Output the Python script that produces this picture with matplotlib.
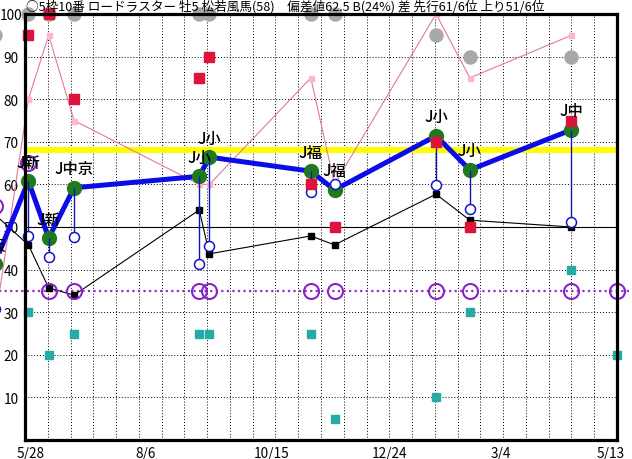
import numpy as np
import matplotlib
matplotlib.use("Agg")
import matplotlib.pyplot as plt
from matplotlib.transforms import ScaledTranslation

plt.rcParams['font.family'] = ['Noto Sans CJK JP', 'DejaVu Sans']

# Race days, counted from 5/28
race_days = [-18, 2, 14, 29, 103, 109, 169, 183, 243, 263, 323, 350]
race_labels = ["J阪", "J新", "J新", "J中京", "J小", "J小", "J福", "J福", "J小", "J小", "J中", ""]

nan = np.nan
index_vals = [41.3, 60.8, 47.4, 59.2, 61.9, 66.4, 63.1, 58.7, 71.4, 63.4, 72.8, nan]
open_vals = [30.8, 47.9, 43.0, 47.7, 41.3, 45.5, 58.2, 60.1, 59.9, 54.2, 51.2, nan]
black_vals = [53.0, 45.8, 35.7, 34.0, 54.0, 43.7, 47.9, 45.8, 57.7, 51.6, 50.0, nan]
pink_vals = [27, 80, 95, 75, 60, 60, 85, 60, 100, 85, 95, nan]
red_vals = [nan, 95, 100, 80, 85, 90, 60, 50, 70, 50, 75, nan]
teal_vals = [nan, 30, 20, 25, 25, 25, 25, 5, 10, 30, 40, 20]
gray_vals = [95, 100, 100, 100, 100, 100, 100, 100, 95, 90, 90, nan]
purple_vals = [55, 65, 35, 35, 35, 35, 35, 35, 35, 35, 35, 35]

std_level = 68
mid_level = 50
purple_level = 35

xtick_days = [0, 70, 140, 210, 280, 350]
xtick_labels = ["5/28", "8/6", "10/15", "12/24", "3/4", "5/13"]
ytick_vals = [10, 20, 30, 40, 50, 60, 70, 80, 90, 100]

W, H = 632, 460
fig = plt.figure(figsize=(W / 100, H / 100), dpi=100)
ax = fig.add_axes([25 / W, 19 / H, (617 - 25) / W, (441 - 15) / H])
ax.set_xlim(0, 350)
ax.set_ylim(0, 100)

# grid
for gx in np.linspace(0, 350, 27)[1:-1]:
    ax.axvline(gx, color='black', lw=0.7, ls=(0, (1, 2)), zorder=0.5)
for gy in ytick_vals[:-1]:
    ax.axhline(gy, color='black', lw=0.7, ls=(0, (1, 2)), zorder=0.5)

for s in ax.spines.values():
    s.set_linewidth(2.3)
    s.set_zorder(8)

ax.set_yticks(ytick_vals)
ax.set_yticklabels([str(v) for v in ytick_vals], fontsize=9.8, ha='center')
ax.tick_params(axis='y', length=0, pad=10)
ax.set_xticks(xtick_days)
ax.set_xticklabels(xtick_labels, fontsize=9.8)
ax.tick_params(axis='x', length=0, pad=4)
for i, lab in enumerate(ax.get_xticklabels()):
    if i == len(xtick_labels) - 1:
        lab.set_ha('right')
        lab.set_transform(lab.get_transform() + ScaledTranslation(8 / 100, 0, fig.dpi_scale_trans))
    else:
        lab.set_ha('left')
        lab.set_transform(lab.get_transform() + ScaledTranslation(-8 / 100, 0, fig.dpi_scale_trans))

x = np.array(race_days, dtype=float)

# reference levels
ax.axhline(std_level, color='#ffff00', lw=4.3, zorder=1.5)
ax.axhline(mid_level, color='black', lw=0.8, zorder=1.6)
ax.plot([-40, 380], [purple_level, purple_level], color='#9030c8', lw=1.6,
        ls=(0, (1, 1.5)), zorder=1.7, clip_on=False)

# pink series
ax.plot(x, pink_vals, color='#e07aa0', lw=0.8, marker='s', ms=3.6,
        mfc='#ffb6c8', mec='#ffb6c8', zorder=2, clip_on=False)
# black series
ax.plot(x, black_vals, color='black', lw=0.8, marker='s', ms=4.6,
        mfc='black', mec='black', zorder=2.5, clip_on=False)
# teal squares
ax.plot(x, teal_vals, ls='none', marker='s', ms=6.2, mfc='#26aaa5',
        mec='#26aaa5', zorder=3, clip_on=False)
# gray circles
ax.plot(x, gray_vals, ls='none', marker='o', ms=9.4, mfc='#a8a8a8',
        mec='#a8a8a8', zorder=3, clip_on=False)
# index line
ax.plot(x, index_vals, color='#0c0ce8', lw=3.6, zorder=3.5, clip_on=False,
        solid_capstyle='butt')
ax.plot(x, index_vals, ls='none', marker='o', ms=10, mfc='#1f7a1f',
        mec='#1f7a1f', zorder=4, clip_on=False)
# purple rings
ax.plot(x, purple_vals, ls='none', marker='o', ms=10.8, mfc='none',
        mec='#8a22c8', mew=1.5, zorder=4.5, clip_on=False)
# drop lines and open circles
iv = np.array(index_vals, dtype=float)
ov = np.array(open_vals, dtype=float)
ok = ~np.isnan(iv) & ~np.isnan(ov)
ax.vlines(x[ok], ov[ok], iv[ok], color='#1414b4', lw=1.0, zorder=5, clip_on=False)
ax.plot(x, open_vals, ls='none', marker='o', ms=7.2, mfc='white',
        mec='#1414c8', mew=1.1, zorder=5.2, clip_on=False)
# red squares
ax.plot(x, red_vals, ls='none', marker='s', ms=7.2, mfc='#dc143c',
        mec='#dc143c', zorder=5.5, clip_on=False)

# race labels
for xi, yi, t in zip(x, index_vals, race_labels):
    if t and not np.isnan(yi):
        ax.annotate(t, (xi, yi), xytext=(0, 13.7), textcoords='offset points',
                    ha='center', va='center', fontsize=11, color='black',
                    fontweight='medium', zorder=7, annotation_clip=False)

fig.text(26 / W, 1 - 7 / H,
         "○5枠10番 ロードラスター 牡5 松若風馬(58)　偏差値62.5 B(24%) 差 先行61/6位 上り51/6位",
         fontsize=9.1, ha='left', va='center', color='black')

fig.savefig("out.png", dpi=100, facecolor='white')
